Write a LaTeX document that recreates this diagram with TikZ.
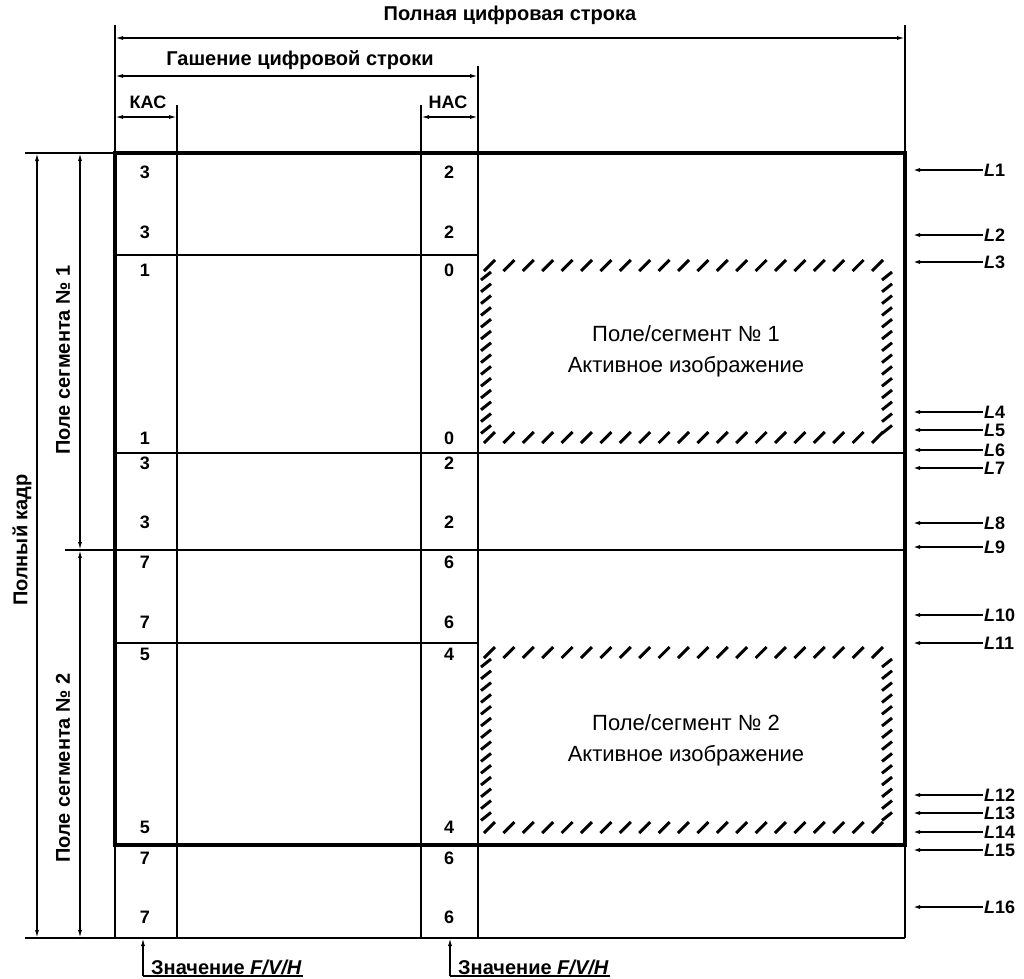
\documentclass[tikz,border=0pt]{standalone}
\usepackage{fontspec}
\setmainfont{Liberation Sans}
\usetikzlibrary{arrows.meta}

\tikzset{
  thickline/.style={line width=4pt},
  midline/.style={line width=2.2pt},
  thinline/.style={line width=1.1pt},
  dimline/.style={line width=1.4pt,{Latex[length=8pt,width=4pt]}-{Latex[length=8pt,width=4pt]}},
  lbl/.style={font=\fontsize{20}{24}\selectfont\bfseries,inner sep=1pt},
  numlbl/.style={font=\fontsize{18}{20}\selectfont\bfseries,inner sep=1pt},
  llbl/.style={font=\fontsize{18}{18}\selectfont\bfseries,inner sep=1pt,anchor=west},
  hatch/.style={line width=3pt},
}

\begin{document}
\begin{tikzpicture}[x=1pt,y=-1pt,>={Latex[length=8pt,width=4pt]}]
    \useasboundingbox (0,0) rectangle (1024,978);
    % frame corners
    \coordinate (tl) at (115,153);
    \coordinate (tr) at (905,153);
    \coordinate (bl) at (115,845);
    \coordinate (br) at (905,845);
    \coordinate (bbl) at (115,938);
    \coordinate (bbr) at (905,938);
    \coordinate (rb) at (912,153);
    % extension lines
    \draw[thinline] (115,25) -- (tl);
    \draw[thinline] (905,25) -- (tr);
    \draw[thinline] (478,66) -- (478,938);
    \draw[midline] (177,105) -- (177,938);
    \draw[midline] (421,105) -- (421,938);
    \draw[thinline] (25,153) -- (tl);
    \draw[midline] (25,938) -- (bbr);
    % top dimensions
    \node[lbl] (full) at (510,15) {Полная цифровая строка};
    \draw[dimline] (115,38) -- (905,38);
    \node[lbl] (blank) at (300,60) {Гашение цифровой строки};
    \draw[dimline] (115,76) -- (478,76);
    \node[lbl,font=\fontsize{18}{20}\selectfont\bfseries] (kac) at (148,102) {КАС};
    \draw[dimline] (115,117) -- (177,117);
    \node[lbl,font=\fontsize{18}{20}\selectfont\bfseries] (hac) at (448,102) {НАС};
    \draw[dimline] (421,117) -- (478,117);
    % left dimensions
    \draw[dimline] (37,153) -- (37,938);
    \draw[dimline] (80,153) -- (80,550);
    \draw[dimline] (80,550) -- (80,938);
    \draw[thinline] (65,550) -- (905,550);
    \node[lbl,rotate=90] (frm) at (22,540) {Полный кадр};
    \node[lbl,rotate=90] (seg1) at (63,360) {Поле сегмента № 1};
    \node[lbl,rotate=90] (seg2) at (63,768) {Поле сегмента № 2};
    % frame
    \draw[thickline] (tl) -- (tr) -- (br) -- (bl) -- cycle;
    \draw[midline] (bl) -- (bbl);
    \draw[midline] (br) -- (bbr);
    \draw[midline] (115,255) -- (478,255);
    \draw[thinline] (115,453) -- (905,453);
    \draw[midline] (115,643) -- (478,643);
    % hatched active areas
    \foreach \top/\bot/\n in {258/445/1, 645/835/2}{
        \foreach \i in {0,...,20}{
            \draw[hatch] (484+\i*19.4,\top+13) -- (495+\i*19.4,\top+2);
            \draw[hatch] (484+\i*19.4,\bot-2) -- (495+\i*19.4,\bot-13);
        }
        \foreach \i in {0,...,13}{
            \draw[hatch] (481,\top+22+\i*11.8) -- (491,\top+14+\i*11.8);
            \draw[hatch] (882,\top+22+\i*11.8) -- (892,\top+14+\i*11.8);
        }
        \node[lbl,font=\fontsize{22}{31}\selectfont,align=center] (act\n) at (686,{(\top+\bot)/2}) {Поле/сегмент № \n\\Активное изображение};
    }
    % row numbers
    \foreach \y/\a/\b in {172/3/2, 232/3/2, 270/1/0, 438/1/0, 463/3/2, 522/3/2, 562/7/6, 622/7/6, 654/5/4, 827/5/4, 858/7/6, 917/7/6}{
        \node[numlbl] (k\y) at (145,\y) {\a};
        \node[numlbl] (h\y) at (449,\y) {\b};
    }
    % line markers
    \foreach \n/\y in {1/170, 2/235, 3/262, 4/412, 5/430, 6/450, 7/468, 8/523, 9/547, 10/615, 11/643, 12/795, 13/813, 14/832, 15/850, 16/907}{
        \node[llbl] (L\n) at (983,\y) {\textit{L}\n};
        \draw[->,line width=1.6pt] (L\n.west) -- (L\n.west -| rb);
    }
    % F/V/H values
    \coordinate (fa) at (143,976);
    \coordinate (fb) at (450,976);
    \node[lbl,anchor=south west] (fvh1) at (150,976) {Значение \textit{F/V/H}};
    \node[lbl,anchor=south west] (fvh2) at (457,976) {Значение \textit{F/V/H}};
    \draw[thinline] (fvh1.south east) -- (fa);
    \draw[thinline] (fvh2.south east) -- (fb);
    \draw[->,line width=1.4pt] (fa) -- (fa |- bbr);
    \draw[->,line width=1.4pt] (fb) -- (fb |- bbr);
\end{tikzpicture}
\end{document}
